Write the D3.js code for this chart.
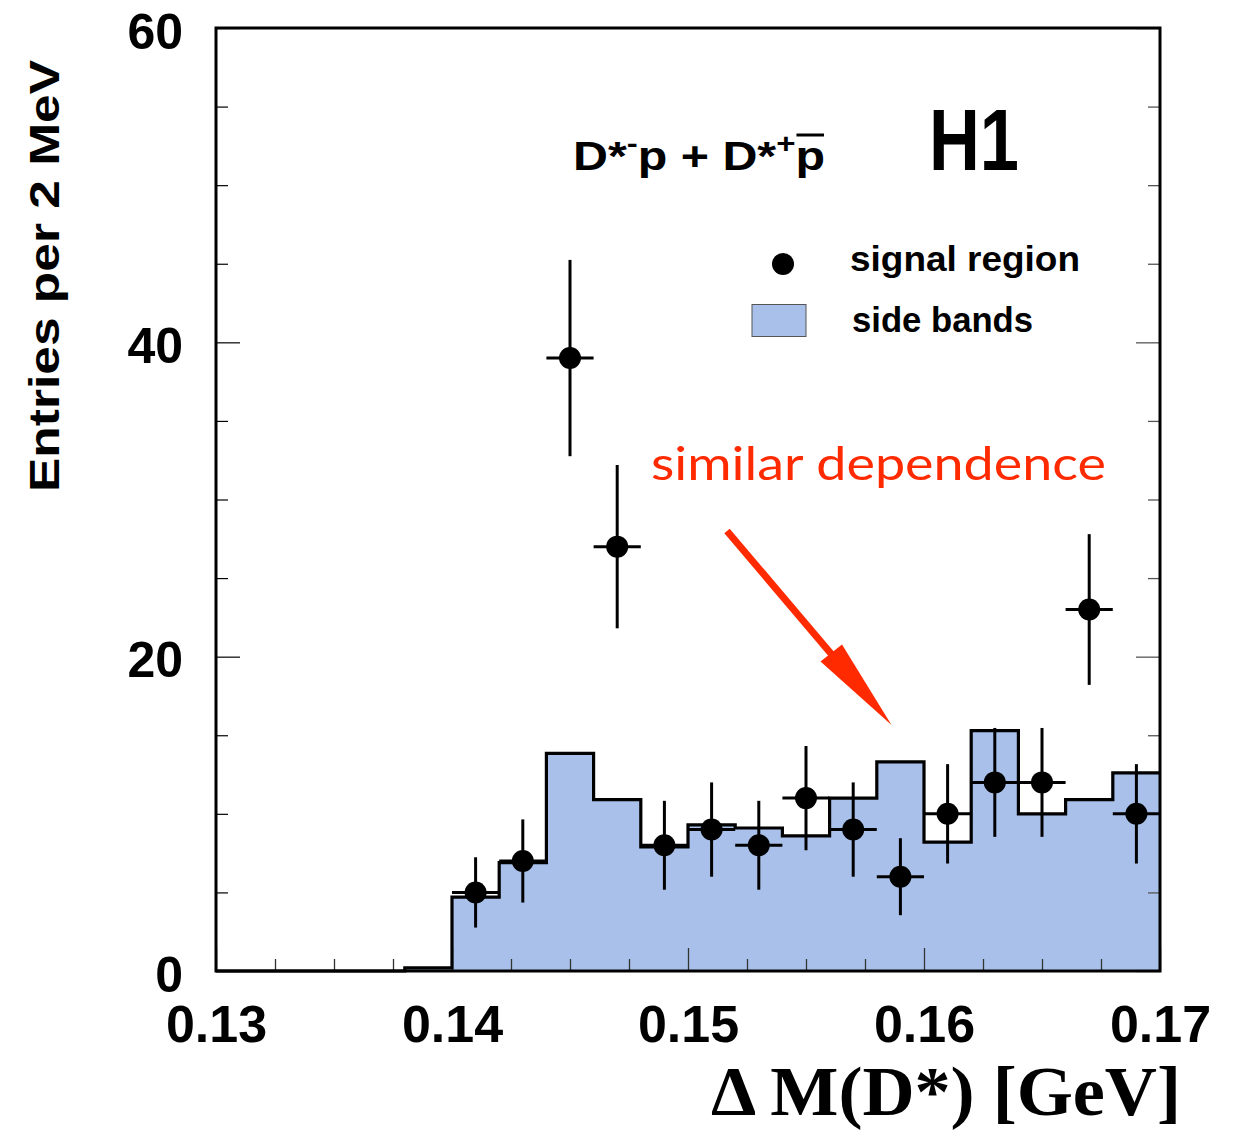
<!DOCTYPE html>
<html>
<head>
<meta charset="utf-8">
<script src="https://cdn.jsdelivr.net/npm/d3@7"></script>
<style>
  html, body { margin: 0; padding: 0; background: #fff; }
  svg { display: block; }
</style>
</head>
<body>
<script>
// ---- data ----
const binStart = 0.130;
const binWidth = 0.002;
const sideBands = [0, 0, 0, 0, 0.2, 4.7, 6.9, 13.85, 10.9, 7.9, 9.3, 9.1, 8.6, 11.0, 13.3, 8.2, 15.3, 10.0, 10.9, 12.6];
const signalX = [0.141, 0.143, 0.145, 0.147, 0.149, 0.151, 0.153, 0.155, 0.157, 0.159, 0.161, 0.163, 0.165, 0.167, 0.169];
const signalY = [5, 7, 39, 27, 8, 9, 8, 11, 9, 6, 10, 12, 12, 23, 10];
const xMajorTicks = [0.13, 0.14, 0.15, 0.16, 0.17];
const xTickLabels = ["0.13", "0.14", "0.15", "0.16", "0.17"];
const yMajorTicks = [0, 20, 40, 60];
const yTickLabels = ["0", "20", "40", "60"];
const yMinorStep = 5;
const xMinorStep = 0.0025;

const W = 1234, H = 1134;
const svg = d3.select("body").append("svg").attr("width", W).attr("height", H);

const x = d3.scaleLinear().domain([0.13, 0.17]).range([216, 1160]);
const y = d3.scaleLinear().domain([0, 60]).range([971, 28]);

const sans = "'Liberation Sans', Arial, Helvetica, sans-serif";

// ---- histogram (side bands) ----
const steps = [];
sideBands.forEach((v, i) => {
  const x0 = binStart + i * binWidth;
  steps.push([x0, v]);
  steps.push([x0 + binWidth, v]);
});
const areaGen = d3.area().x(d => x(d[0])).y0(y(0)).y1(d => y(d[1]));
svg.append("path").datum(steps).attr("d", areaGen).attr("fill", "#a9c1ea");

// ---- ticks (drawn over the fill) ----
const minorY = d3.range(0, 60 + 0.001, yMinorStep).filter(v => !yMajorTicks.includes(v));
const minorX = d3.range(0.13, 0.17 + 1e-9, xMinorStep).filter(v => !xMajorTicks.some(m => Math.abs(m - v) < 1e-9));

const gTicks = svg.append("g");
// bottom
gTicks.append("g").attr("transform", `translate(0,${y(0)})`)
  .call(d3.axisBottom(x).tickValues(minorX).tickSize(-12).tickFormat(""))
  .call(g => g.select(".domain").remove())
  .call(g => g.selectAll("line").attr("stroke", "#333").attr("stroke-width", 1.3));
gTicks.append("g").attr("transform", `translate(0,${y(0)})`)
  .call(d3.axisBottom(x).tickValues(xMajorTicks).tickSize(-23).tickPadding(34)
        .tickFormat((d, i) => xTickLabels[i]))
  .call(g => g.select(".domain").remove())
  .call(g => g.selectAll("line").attr("stroke", "#333").attr("stroke-width", 1.3))
  .call(g => g.selectAll("text").attr("font-family", sans).attr("font-weight", "bold")
        .attr("font-size", 52).attr("fill", "#000"));
// left
gTicks.append("g").attr("transform", `translate(${x(0.13)},0)`)
  .call(d3.axisLeft(y).tickValues(minorY).tickSize(-12).tickFormat(""))
  .call(g => g.select(".domain").remove())
  .call(g => g.selectAll("line").attr("stroke", "#000").attr("stroke-width", 1.2));
gTicks.append("g").attr("transform", `translate(${x(0.13)},0)`)
  .call(d3.axisLeft(y).tickValues(yMajorTicks).tickSize(-24).tickPadding(33)
        .tickFormat((d, i) => yTickLabels[i]))
  .call(g => g.select(".domain").remove())
  .call(g => g.selectAll("line").attr("stroke", "#000").attr("stroke-width", 1.2))
  .call(g => g.selectAll("text").attr("font-family", sans).attr("font-weight", "bold")
        .attr("font-size", 50).attr("fill", "#000").attr("dy", "0.4em"));
// right
gTicks.append("g").attr("transform", `translate(${x(0.17)},0)`)
  .call(d3.axisRight(y).tickValues(minorY).tickSize(-12).tickFormat(""))
  .call(g => g.select(".domain").remove())
  .call(g => g.selectAll("line").attr("stroke", "#555").attr("stroke-width", 1.3));
gTicks.append("g").attr("transform", `translate(${x(0.17)},0)`)
  .call(d3.axisRight(y).tickValues(yMajorTicks).tickSize(-24).tickFormat(""))
  .call(g => g.select(".domain").remove())
  .call(g => g.selectAll("line").attr("stroke", "#555").attr("stroke-width", 1.3));

// ---- histogram outline ----
const lineGen = d3.line().x(d => x(d[0])).y(d => y(d[1]));
svg.append("path").datum(steps).attr("d", lineGen)
  .attr("fill", "none").attr("stroke", "#000").attr("stroke-width", 3.2)
  .attr("stroke-linejoin", "miter");

// ---- frame ----
svg.append("rect")
  .attr("x", x(0.13)).attr("y", y(60))
  .attr("width", x(0.17) - x(0.13)).attr("height", y(0) - y(60))
  .attr("fill", "none").attr("stroke", "#000").attr("stroke-width", 3);

// ---- signal points ----
const gPts = svg.append("g");
signalX.forEach((xv, i) => {
  const v = signalY[i];
  const e = Math.sqrt(v);
  gPts.append("line").attr("x1", x(xv)).attr("x2", x(xv))
    .attr("y1", y(v + e)).attr("y2", y(v - e))
    .attr("stroke", "#000").attr("stroke-width", 3);
  gPts.append("line").attr("x1", x(xv - binWidth / 2)).attr("x2", x(xv + binWidth / 2))
    .attr("y1", y(v)).attr("y2", y(v))
    .attr("stroke", "#000").attr("stroke-width", 3);
  gPts.append("circle").attr("cx", x(xv)).attr("cy", y(v)).attr("r", 11).attr("fill", "#000");
});

// ---- axis titles ----
svg.append("text")
  .attr("transform", "translate(59,276) rotate(-90)")
  .attr("text-anchor", "middle")
  .attr("font-family", sans).attr("font-weight", "bold").attr("font-size", 43)
  .attr("textLength", 432).attr("lengthAdjust", "spacingAndGlyphs")
  .text("Entries per 2 MeV");

svg.append("text")
  .attr("x", 1181).attr("y", 1115)
  .attr("text-anchor", "end")
  .attr("font-family", "'Liberation Serif', 'Times New Roman', serif")
  .attr("font-weight", "bold").attr("font-size", 70)
  .attr("textLength", 470).attr("lengthAdjust", "spacingAndGlyphs")
  .text("\u0394 M(D*) [GeV]");

// ---- process label ----
const proc = svg.append("text")
  .attr("x", 573).attr("y", 170)
  .attr("font-family", sans).attr("font-weight", "bold").attr("font-size", 41)
  .attr("textLength", 252).attr("lengthAdjust", "spacingAndGlyphs");
proc.append("tspan").text("D*");
proc.append("tspan").attr("dy", -17).attr("font-size", 28).text("-");
proc.append("tspan").attr("dy", 17).text("p + D*");
proc.append("tspan").attr("dy", -17).attr("font-size", 28).text("+");
proc.append("tspan").attr("dy", 17).text("p");
// bar over the last "p"
{
  const node = proc.node();
  const n = node.getNumberOfChars();
  const s = node.getStartPositionOfChar(n - 1);
  const e = node.getEndPositionOfChar(n - 1);
  svg.append("line").attr("x1", s.x + 1).attr("x2", e.x - 1)
    .attr("y1", 135).attr("y2", 135)
    .attr("stroke", "#000").attr("stroke-width", 3);
}

svg.append("text")
  .attr("x", 929).attr("y", 170)
  .attr("font-family", sans).attr("font-weight", "bold").attr("font-size", 88)
  .attr("textLength", 90).attr("lengthAdjust", "spacingAndGlyphs")
  .text("H1");

// ---- legend ----
svg.append("circle").attr("cx", 783).attr("cy", 264).attr("r", 11).attr("fill", "#000");
svg.append("text").attr("x", 850).attr("y", 271)
  .attr("font-family", sans).attr("font-weight", "bold").attr("font-size", 35)
  .attr("textLength", 230).attr("lengthAdjust", "spacingAndGlyphs")
  .text("signal region");
svg.append("rect").attr("x", 752).attr("y", 304.5).attr("width", 54).attr("height", 32)
  .attr("fill", "#a9c1ea").attr("stroke", "#555").attr("stroke-width", 1);
svg.append("text").attr("x", 852).attr("y", 332)
  .attr("font-family", sans).attr("font-weight", "bold").attr("font-size", 35)
  .attr("textLength", 181).attr("lengthAdjust", "spacingAndGlyphs")
  .text("side bands");

// ---- annotation ----
const red = "#ff2a00";
svg.append("text").attr("x", 651).attr("y", 480)
  .attr("font-family", "Lato, 'Open Sans', sans-serif").attr("font-size", 47)
  .attr("fill", red)
  .attr("textLength", 455).attr("lengthAdjust", "spacingAndGlyphs")
  .text("similar dependence");

svg.append("line").attr("x1", 727).attr("y1", 531).attr("x2", 833).attr("y2", 656)
  .attr("stroke", red).attr("stroke-width", 7);
svg.append("path")
  .attr("d", "M820.5,661.5 L842,644.5 L891.5,725 Z")
  .attr("fill", red);
</script>
</body>
</html>
